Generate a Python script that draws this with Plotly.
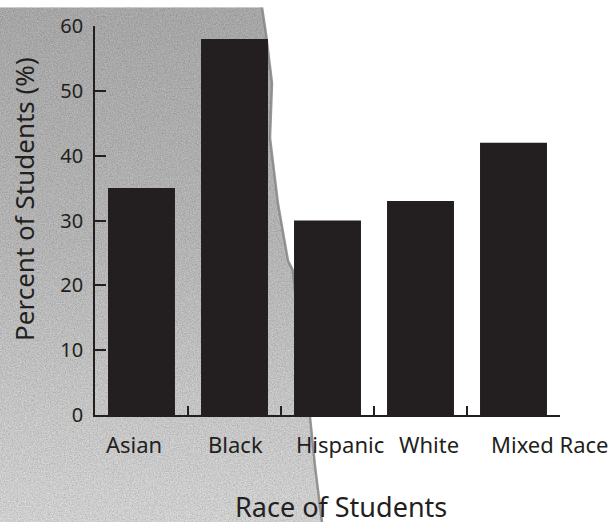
import base64
import plotly.graph_objects as go

# ---- data ----
categories = ["Asian", "Black", "Hispanic", "White", "Mixed Race"]
percent_students = [35, 58, 30, 33, 42]
y_tick_values = [0, 10, 20, 30, 40, 50, 60]

# ---- style / layout constants ----
W, H = 613, 524
ML, MR, MT, MB = 95, 53, 19, 109
PW, PH = W - ML - MR, H - MT - MB
INK = "#231f20"
FONT = "Noto Sans"
label_xshift = [-8, 1, 12, 8, 36]


def px_x(p):
    return (p - ML) / PW


def px_y(p):
    return (H - MB - p) / PH


# torn grey paper background (decoration), drawn as an SVG image
edge = [(262, 0), (266, 27), (272, 77), (270, 133), (278, 200), (288, 258),
        (293, 268), (300, 340), (310, 417), (315, 467), (322, 524)]
edge_pts = " ".join(f"{x},{y}" for x, y in edge)
poly_pts = "0,0 " + edge_pts + " 0,524"
svg = f'''<svg xmlns="http://www.w3.org/2000/svg" width="{W}" height="{H}" viewBox="0 0 {W} {H}">
<defs>
<linearGradient id="g" x1="0" y1="0" x2="0" y2="1">
<stop offset="0" stop-color="#b2b2b2"/>
<stop offset="0.45" stop-color="#c0c0c0"/>
<stop offset="0.8" stop-color="#d4d4d4"/>
<stop offset="1" stop-color="#dedede"/>
</linearGradient>
<filter id="n" x="0" y="0" width="100%" height="100%">
<feTurbulence type="fractalNoise" baseFrequency="0.75" numOctaves="3" seed="4" result="t"/>
<feColorMatrix in="t" type="matrix" values="0 0 0 0 0  0 0 0 0 0  0 0 0 0 0  0.6 0 0 0 -0.15" result="d"/>
<feComposite in="d" in2="SourceAlpha" operator="in" result="dc"/>
<feMerge><feMergeNode in="SourceGraphic"/><feMergeNode in="dc"/></feMerge>
</filter>
</defs>
<polygon points="{poly_pts}" fill="url(#g)" filter="url(#n)"/>
<polyline points="{edge_pts}" fill="none" stroke="#858585" stroke-width="2.5" opacity="0.85"/>
</svg>'''
bg_src = "data:image/svg+xml;base64," + base64.b64encode(svg.encode()).decode()

fig = go.Figure(
    go.Bar(
        x=categories,
        y=percent_students,
        marker=dict(color=INK, line=dict(width=0)),
        hoverinfo="skip",
    )
)

annotations = []
for cat, dx in zip(categories, label_xshift):
    annotations.append(dict(
        x=cat, y=0, xref="x", yref="y", text=cat, showarrow=False,
        xanchor="center", yanchor="middle", xshift=dx, yshift=-29,
        font=dict(family=FONT, size=22, color=INK),
    ))
annotations.append(dict(
    x=px_x(340.5), y=px_y(508), xref="paper", yref="paper",
    text="Race of Students", showarrow=False, xanchor="center", yanchor="middle",
    font=dict(family=FONT, size=27, color=INK),
))
annotations.append(dict(
    x=px_x(24), y=px_y(195), xref="paper", yref="paper",
    text="Percent of Students (%)", showarrow=False, textangle=-90,
    xanchor="center", yanchor="middle",
    font=dict(family=FONT, size=26, color=INK),
))

fig.update_layout(
    width=W, height=H,
    margin=dict(l=ML, r=MR, t=MT, b=MB, pad=0),
    paper_bgcolor="white",
    plot_bgcolor="rgba(0,0,0,0)",
    showlegend=False,
    bargap=0.28,
    annotations=annotations,
    images=[dict(
        source=bg_src, xref="paper", yref="paper",
        x=px_x(0), y=px_y(0), sizex=W / PW, sizey=H / PH,
        xanchor="left", yanchor="top", sizing="stretch", layer="below",
    )],
    xaxis=dict(
        range=[-0.5, 4.5], showgrid=False, zeroline=False,
        showline=True, linecolor=INK, linewidth=1.5,
        ticks="inside", tickson="boundaries", ticklen=9, tickwidth=1.5,
        tickcolor=INK, showticklabels=False, fixedrange=True,
    ),
    yaxis=dict(
        range=[0, 60], tickvals=y_tick_values, showgrid=False, zeroline=False,
        showline=True, linecolor=INK, linewidth=1.5,
        ticks="inside", ticklen=11, tickwidth=1.5, tickcolor=INK,
        ticklabelstandoff=6,
        tickfont=dict(family=FONT, size=20, color=INK), fixedrange=True,
    ),
)

post_js = (
    "document.documentElement.style.margin='0';"
    "document.body.style.margin='0';document.body.style.padding='0';"
    "document.body.style.overflow='hidden';"
    "var gd=document.getElementById('{plot_id}');"
    "gd.style.position='absolute';gd.style.left='0px';gd.style.top='0px';"
)

fig.write_html("out.html", post_script=post_js, config={"displayModeBar": False})
